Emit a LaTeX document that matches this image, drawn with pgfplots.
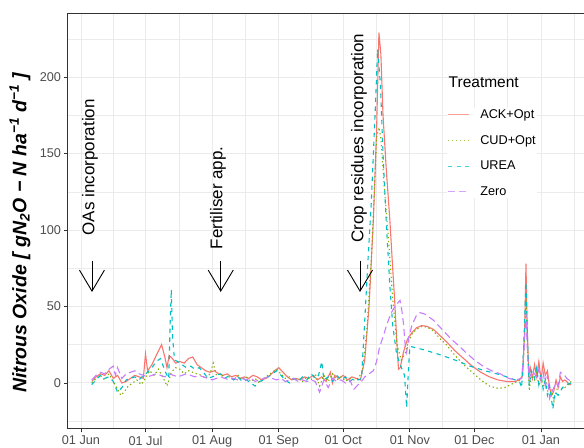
\documentclass[border=0pt]{standalone}
\usepackage{fontspec}
\setmainfont{Liberation Sans}
\usepackage{pgfplots}
\pgfplotsset{compat=1.18}
\usetikzlibrary{arrows.meta}
\definecolor{ack}{HTML}{F8766D}
\definecolor{cud}{HTML}{7CAE00}
\definecolor{urea}{HTML}{00BFC4}
\definecolor{zero}{HTML}{C77CFF}
\definecolor{gridc}{HTML}{EBEBEB}
\definecolor{grey20}{HTML}{333333}
\definecolor{grey30}{HTML}{4D4D4D}
\begin{document}
\begin{tikzpicture}
\begin{axis}[
  scale only axis, width=516pt, height=415pt,
  xmin=-6.05, xmax=234, ymin=-30.07, ymax=241.2,
  xtick={0,30,61,92,122,153,183,214},
  xticklabels={01 Jun,01 Jul,01 Aug,01 Sep,01 Oct,01 Nov,01 Dec,01 Jan},
  minor xtick={-15,15,45.5,76.5,107,137.5,168,198.5,229.5},
  ytick={0,50,100,150,200},
  minor ytick={-25,25,75,125,175,225},
  grid=both,
  major grid style={draw=gridc, line width=1pt},
  minor grid style={draw=gridc, line width=0.5pt},
  axis line style={draw=grey20, line width=1pt},
  xtick pos=bottom, ytick pos=left,
  tick align=outside, major tick length=3.5pt, minor tick length=0pt,
  major tick style={draw=grey20, line width=0.8pt},
  tick label style={font=\fontsize{12.7}{14}\selectfont, color=grey30},
  /pgf/number format/assume math mode=true,
  ylabel={\bfseries\itshape Nitrous Oxide [ gN\textsubscript{2}O − N ha\textsuperscript{−1} d\textsuperscript{−1} ]},
  ylabel style={at={(axis description cs:-0.093,0.473)}, anchor=center, font=\fontsize{19.5}{22}\selectfont},
  legend image code/.code={\draw[#1, opacity=0.7] (0pt,0pt) -- (21pt,0pt);},
  legend cell align=left,
  legend style={draw=none, fill=white, inner sep=0pt, at={(rel axis cs:0.7345,0.773)}, anchor=north west,
    font=\fontsize{12.7}{14}\selectfont, row sep=13.4pt, column sep=10pt, nodes={inner sep=1pt}},
]
\addplot[ack, line width=1.1pt] coordinates {
(5,1) (7,4) (9,6) (11,5) (13,8) (15,3) (17,5) (19,0) (21,1) (23,3) (25,5) (27,4) (29,3) (30,19) (31,8) (33,12) (35,18) (37.5,25) (39,17) (40,10) (41,18) (42.5,16) (44,13) (46,14) (48,13) (50,16) (52,17) (54,12) (56,10) (58,8) (60,7) (62,8) (64,6) (66,5) (68,6) (70,4) (72,5) (74,3) (76,4) (78,3) (80,5) (82,4) (84,2) (86,3) (88,5) (90,8) (92,10) (94,7) (96,4) (98,2) (100,3) (102,2) (104,4) (106,3) (108,5) (110,2) (112,4) (114,1) (116,7) (117,0) (118,5) (120,3) (122,5) (124,2) (126,4) (128,3) (130,2) (132,15) (134,50) (136,106) (137.5,165) (138.6,229) (139.5,215) (140.5,175) (142,140) (143.7,106) (145,75) (146,52) (147,25) (147.7,9) (148.5,10) (150,20) (151,25) (152,29) (154,33) (156,36) (158.5,37.5) (161,37) (164,35) (167,31) (170,27) (174,21) (178,16) (182,11) (186,7) (190,4) (194,2) (198,1) (202,1) (204,2) (205.5,5) (206.5,40) (207,78) (207.5,40) (208.3,5) (209,10) (210,3) (211,12) (212,4) (213,14) (214,2) (215,13) (216,5) (217,8) (218,-3) (219,-8) (220,-5) (221,2) (222,-3) (223,4) (224,1) (225,2) (226,1) (227,-1) (228,-1)
};
\addlegendentry{ACK+Opt}
\addplot[cud, line width=1.1pt, dash pattern=on 1.3pt off 2.7pt] coordinates {
(5,0) (7,3) (9,5) (11,2) (13,6) (15,1) (17,-4) (18.5,-8) (20,-6) (22,-2) (24,0) (26,2) (28,-1) (30,3) (32,8) (34,5) (36,9) (38,4) (40,-2) (42,7) (44,10) (46,9) (48,6) (50,8) (52,7) (54,6) (56,5) (58,3) (60,6) (61.5,13) (63,5) (65,6) (67,3) (69,4) (71,2) (73,5) (75,2) (77,4) (79,1) (81,3) (83,0) (85,3) (87,5) (89,7) (91,9) (93,6) (95,3) (97,4) (99,2) (101,3) (103,1) (105,4) (107,2) (109,6) (111,-2) (113,5) (115,1) (117,6) (119,2) (121,4) (123,1) (125,3) (127,2) (129,3) (131,8) (133,35) (135,80) (136.5,125) (137.5,160) (138.6,167) (139.5,160) (141,130) (143,95) (145,55) (147,25) (149,15) (151,20) (152,26) (154,32) (156,35) (158.5,37) (161,36.5) (164,34) (167,29) (170,25) (174,18) (178,12) (182,7) (186,2) (190,-2) (194,-3.5) (197,-3) (200,-1) (203,1) (205,3) (206,20) (207,55) (207.7,25) (208.5,-5) (209.5,5) (211,2) (212,7) (213,-2) (214,4) (215,-3) (216,3) (217,-5) (218,-8) (219,-4) (220,-12) (221,-6) (222,-2) (224,-4) (226,-2) (228,1)
};
\addlegendentry{CUD+Opt}
\addplot[urea, line width=1.1pt, dash pattern=on 4.4pt off 4.4pt] coordinates {
(5,-1) (7,2) (9,5) (11,3) (13,4) (15,1) (17,-6) (19,-3) (21,2) (23,3) (25,4) (27,2) (29,5) (31,7) (33,10) (35,14) (37,16) (39,8) (40.8,3) (41.5,40) (42,61) (42.6,30) (43.5,15) (45,14) (47,12) (49,10) (51,11) (53,9) (55,10) (57,7) (59,3) (61,4) (63,5) (65,6) (67,3) (69,5) (71,2) (73,4) (75,1) (77,2) (79,0) (81,-2) (83,1) (85,2) (87,4) (89,6) (91,8) (93,5) (95,2) (97,0) (99,3) (101,1) (103,4) (105,2) (107,6) (109,3) (110.5,5) (112,14) (113,2) (115,4) (117,1) (119,5) (121,2) (123,4) (125,1) (127,3) (129,2) (130.5,3) (132,41) (133.5,80) (135,117) (136.7,172) (138,218) (139.3,195) (140.5,150) (142,105) (143.7,63) (145,38) (146.8,19) (148.5,12) (150.5,5) (151.5,-16) (152.3,8) (153,24) (160,21.5) (167,18.5) (174,15) (181,11) (188,8) (196,5) (204,1) (205,-3) (206,25) (207,66) (207.7,30) (208.5,-2) (209.5,8) (211,3) (212,10) (213,-1) (214,6) (215,-4) (216,2) (217,-8) (218,-2) (219.5,-17) (220.5,-6) (222,-8) (224,-3) (226,-1) (228,0)
};
\addlegendentry{UREA}
\addplot[zero, line width=1.1pt, dash pattern=on 7pt off 4pt] coordinates {
(5,2) (7,5) (9,7) (11,6) (13,9) (15,11) (16,5) (17,10) (19,3) (21,6) (23,7) (25,8) (27,6) (29,5) (31,4) (33,5) (35,6) (37,5) (39,4) (41,6) (43,5) (45,4) (47,5) (49,6) (51,5) (53,4) (55,5) (57,4) (59,3) (61,2) (63,3) (65,4) (67,3) (69,2) (71,3) (73,2) (75,3) (77,2) (79,3) (81,1) (83,2) (85,3) (87,4) (89,3) (91,2) (93,3) (95,1) (97,2) (99,3) (101,1) (103,2) (105,1) (107,2) (109,1) (111,-6) (113,2) (115,-3) (117,3) (119,1) (121,2) (123,0) (125,2) (127,-4) (129,-1) (131,2) (132,4) (134,6) (136,8) (137.5,14) (139,24) (140.5,30) (142,37) (144,45) (146,50) (148.4,54) (149.2,48) (150,39) (150.8,25) (151.5,20) (152.5,30) (154,38) (156,44) (157.7,46) (160,45) (164,41) (168,35) (172,29) (176,24) (179,20) (183,15) (187,11) (191,8) (195,6) (199,3) (202,2) (205,3) (206,20) (207,45) (207.7,20) (208.5,3) (210,8) (212,4) (213,9) (214,2) (215,7) (216,-2) (217,5) (218,-10) (219,-6) (220,-3) (221,0) (222,-2) (223,7) (224,6) (225,5) (226,3) (227,2) (228,1)
};
\addlegendentry{Zero}
\node[anchor=west, font=\fontsize{15.5}{18}\selectfont] at (rel axis cs:0.731,0.836) {Treatment};
\node[rotate=90, font=\fontsize{17}{20}\selectfont] at (axis cs:4.2,141) {OAs incorporation};
\node[rotate=90, font=\fontsize{17}{20}\selectfont] at (axis cs:63.7,121) {Fertiliser app.};
\node[rotate=90, font=\fontsize{17}{20}\selectfont] at (axis cs:129.3,160) {Crop residues incorporation};
\draw[-{Straight Barb[length=21pt,width=25pt]}, line width=0.9pt] (axis cs:5.1,80) -- (axis cs:5.1,59.5);
\draw[-{Straight Barb[length=21pt,width=25pt]}, line width=0.9pt] (axis cs:65,80) -- (axis cs:65,59.5);
\draw[-{Straight Barb[length=21pt,width=25pt]}, line width=0.9pt] (axis cs:129.8,80) -- (axis cs:129.8,59.5);
\coordinate (sw) at (rel axis cs:0,0);
\coordinate (ne) at (rel axis cs:1,1);
\end{axis}
\pgfresetboundingbox
\path[use as bounding box] ([xshift=-68pt,yshift=-19pt]sw) rectangle ([yshift=14pt]ne);
\end{tikzpicture}
\end{document}
